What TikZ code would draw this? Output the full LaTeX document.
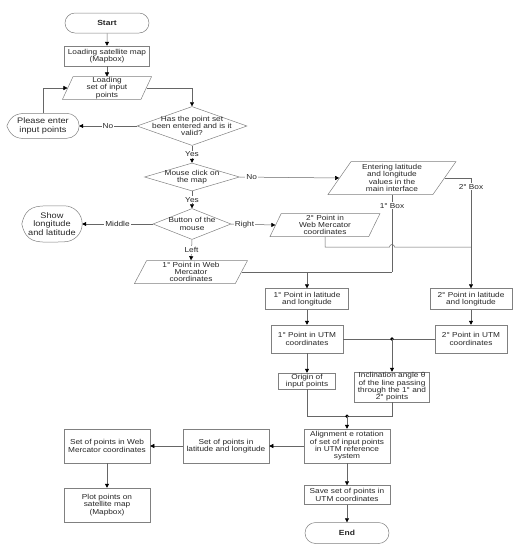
\documentclass[tikz,border=0pt]{standalone}
\usepackage{fontspec}
\setmainfont[FakeStretch=1.15]{Liberation Sans}
\usetikzlibrary{shapes.geometric,shapes.misc,arrows.meta,calc}
\begin{document}
\begin{tikzpicture}[x=1pt,y=-1pt,
  every node/.style={font=\fontsize{7.2}{7.4}\selectfont, align=center, inner sep=0.5pt, text=black!85},
  outl/.style={draw=black!50, line width=0.5pt},
  box/.style={outl, rectangle},
  term/.style={outl, rounded rectangle, font=\fontsize{7.4}{7.6}\selectfont\bfseries},
  dec/.style={outl, diamond, inner sep=0pt},
  io/.style={outl, trapezium, trapezium stretches body},
  disp/.style={rectangle, font=\fontsize{8}{8.4}\selectfont},
  con/.style={draw=black!60, line width=0.5pt},
  arr/.style={con, -{Triangle[length=4pt,width=4pt,color=black,fill=black]}},
  lab/.style={fill=white, inner sep=1pt},
  dot/.style={fill=black}]
\useasboundingbox (0,0) rectangle (520,550);

% nodes
\node[term, minimum width=85, minimum height=20] (start) at (107,23) {Start};
\node[box, minimum width=85, minimum height=20] (sat) at (107,56) {Loading satellite map\\(Mapbox)};
\node[io, trapezium left angle=65, trapezium right angle=115, minimum width=89, minimum height=22] (load) at (107,88) {Loading\\set of input\\points};
\node[dec, minimum width=110, minimum height=39, label={center:{Has the point set\\been entered and is it\\valid?}}] (d1) at (192,126) {};
\node[disp, minimum width=72, minimum height=25] (pe) at (43,126) {Please enter\\input points};
\node[dec, minimum width=95, minimum height=28, label={center:{Mouse click on\\the map}}] (d2) at (192,177) {};
\node[io, trapezium left angle=51, trapezium right angle=129, minimum width=128, minimum height=33] (ent) at (392,178) {Entering latitude\\and longitude\\values in the\\main interface};
\node[dec, minimum width=78, minimum height=31, label={center:{Button of the\\mouse}}] (d3) at (192,224) {};
\node[disp, minimum width=60, minimum height=36] (show) at (52,224) {Show\\longitude\\and latitude};
\node[io, trapezium left angle=62, trapezium right angle=118, minimum width=110, minimum height=23] (wm2) at (325,225) {2° Point in\\Web Mercator\\coordinates};
\node[io, trapezium left angle=60, trapezium right angle=120, minimum width=113, minimum height=23] (wm1) at (191,272) {1° Point in Web\\Mercator\\coordinates};
\node[box, minimum width=83, minimum height=21] (ll1) at (307,299) {1° Point in latitude\\and longitude};
\node[box, minimum width=82, minimum height=21] (ll2) at (471,299) {2° Point in latitude\\and longitude};
\node[box, minimum width=72, minimum height=28] (utm1) at (307,339) {1° Point in UTM\\coordinates};
\node[box, minimum width=72, minimum height=28] (utm2) at (471,339) {2° Point in UTM\\coordinates};
\node[box, minimum width=57, minimum height=16] (orig) at (307,381) {Origin of\\input points};
\node[box, minimum width=75, minimum height=30] (incl) at (392,387) {Inclination angle θ\\of the line passing\\through the 1° and\\2° points};
\node[box, minimum width=86, minimum height=34] (align) at (347,446) {Alignment e rotation\\of set of input points\\in UTM reference\\system};
\node[box, minimum width=86, minimum height=34] (setll) at (226,446) {Set of points in\\latitude and longitude};
\node[box, minimum width=86, minimum height=34] (setwm) at (107,446) {Set of points in Web\\Mercator coordinates};
\node[box, minimum width=86, minimum height=34] (plot) at (107,505) {Plot points on\\satellite map\\(Mapbox)};
\node[box, minimum width=86, minimum height=19] (save) at (347,495) {Save set of points in\\UTM coordinates};
\node[term, minimum width=85, minimum height=21] (fin) at (347,533) {End};

% display outlines
\draw[outl] (pe.west) .. controls ([xshift=5]pe.north west) and ([xshift=12]pe.north west) .. ([xshift=24]pe.north west)
  -- ([xshift=-12.5]pe.north east) arc[start angle=-90, end angle=90, radius=12.5]
  -- ([xshift=24]pe.south west) .. controls ([xshift=12]pe.south west) and ([xshift=5]pe.south west) .. (pe.west);
\draw[outl] (show.west) .. controls ([xshift=4]show.north west) and ([xshift=14]show.north west) .. ([xshift=30]show.north west)
  -- ([xshift=-18]show.north east) arc[start angle=-90, end angle=90, radius=18]
  -- ([xshift=30]show.south west) .. controls ([xshift=14]show.south west) and ([xshift=4]show.south west) .. (show.west);

% connectors
\draw[arr] (start) -- (sat);
\draw[arr] (sat) -- (load);
\draw[arr] (load.east) -| (d1.north);
\draw[arr] (d1.west) -- node[lab]{No} (pe.east);
\draw[arr] (pe.north) |- (load.west);
\draw[arr] (d1.south) -- node[lab]{Yes} (d2.north);
\draw[arr] (d2.east) -- node[lab, pos=0.12]{No} (ent.west);
\draw[arr] (d2.south) -- node[lab]{Yes} (d3.north);
\draw[arr] (d3.east) -- node[lab, pos=0.3]{Right} (wm2.west);
\draw[arr] (d3.west) -- node[lab]{Middle} (show.east);
\draw[arr] (d3.south) -- node[lab]{Left} (wm1.north);

\coordinate (j1) at (ent.south |- wm1.east);
\draw[con] (wm1.east) -- (j1);
\draw[con] (ent.south) -- node[lab, pos=0.14]{1° Box} (j1);
\draw[arr] (ll1.north |- wm1.east) -- (ll1.north);
\draw[arr] (ent.east) -| node[lab, pos=0.54]{2° Box} (ll2.north);
\draw[con] (wm2.south) |- ($(ent.south |- 0,247)+(-2.5,0)$) arc[start angle=180, end angle=360, radius=2.5] -- (ll2.north |- 0,247);

\draw[arr] (ll1) -- (utm1);
\draw[arr] (ll2) -- (utm2);
\draw[con] (utm1) -- (utm2);
\coordinate (j2) at (incl.north |- utm1.east);
\fill[dot] (j2) circle[radius=1.8];
\draw[arr] (j2) -- (incl.north);
\draw[arr] (utm1) -- (orig);
\coordinate (j3) at ($(orig.south)+(0,27)$);
\draw[con] (orig.south) -- (j3) -| (incl.south);
\coordinate (j4) at (align.north |- j3);
\fill[dot] (j4) circle[radius=1.8];
\draw[arr] (j4) -- (align.north);
\draw[arr] (align) -- (setll);
\draw[arr] (setll) -- (setwm);
\draw[arr] (setwm) -- (plot);
\draw[arr] (align) -- (save);
\draw[arr] (save) -- (fin);
\end{tikzpicture}
\end{document}
